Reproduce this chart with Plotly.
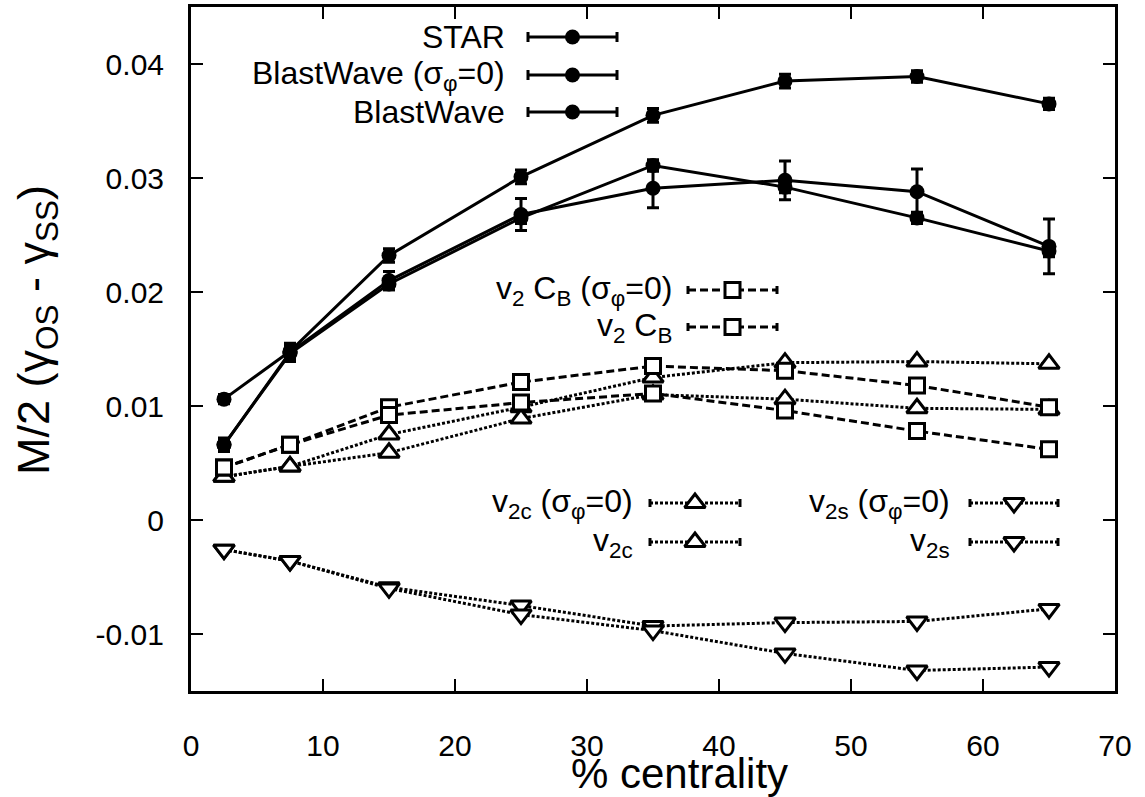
import plotly.graph_objects as go

# ---------------- data ----------------
centrality = [2.5, 7.5, 15, 25, 35, 45, 55, 65]

star = [0.0066, 0.0147, 0.0210, 0.0268, 0.0291, 0.0298, 0.0288, 0.0240]
star_err = [0.0006, 0.0008, 0.0008, 0.0014, 0.0017, 0.0017, 0.0020, 0.0024]

bw_sig0 = [0.0106, 0.0148, 0.0232, 0.0301, 0.0355, 0.0385, 0.0389, 0.0365]
bw_sig0_err = [0.0004, 0.0005, 0.0006, 0.0006, 0.0006, 0.0006, 0.0005, 0.0005]

bw = [0.0066, 0.0146, 0.0207, 0.0265, 0.0311, 0.0292, 0.0265, 0.0236]
bw_err = [0.0004, 0.0005, 0.0005, 0.0005, 0.0005, 0.0005, 0.0005, 0.0005]

v2cb_sig0 = [0.0046, 0.0066, 0.0099, 0.0121, 0.0135, 0.0131, 0.0118, 0.0099]
v2cb = [0.0046, 0.0066, 0.0092, 0.0103, 0.0111, 0.0096, 0.0078, 0.0062]

v2c_sig0 = [0.0038, 0.0047, 0.0075, 0.0099, 0.0125, 0.0138, 0.0139, 0.0137]
v2c = [0.0038, 0.0047, 0.0059, 0.0089, 0.0110, 0.0106, 0.0098, 0.0097]

v2s_sig0 = [-0.0026, -0.0036, -0.0059, -0.0075, -0.0093, -0.0090, -0.0089, -0.0078]
v2s = [-0.0026, -0.0036, -0.0060, -0.0083, -0.0097, -0.0117, -0.0132, -0.0129]

x_ticks = [0, 10, 20, 30, 40, 50, 60, 70]
y_ticks = [-0.01, 0, 0.01, 0.02, 0.03, 0.04]
y_ticklabels = ["-0.01", "0", "0.01", "0.02", "0.03", "0.04"]

# ---------------- styling ----------------
FONT = "Liberation Sans, Arial, Helvetica, sans-serif"
BLACK = "black"
DASH = "8px,4px"
DOT = "3px,2px"
LW = 3

fig = go.Figure()


def solid(y, err):
    fig.add_trace(go.Scatter(
        x=centrality, y=y, mode="lines+markers",
        line=dict(color=BLACK, width=LW),
        marker=dict(symbol="circle", size=15, color=BLACK),
        error_y=dict(type="data", array=err, color=BLACK, thickness=3, width=6),
        showlegend=False, hoverinfo="skip"))


def openline(y, symbol, dash, size):
    fig.add_trace(go.Scatter(
        x=centrality, y=y, mode="lines+markers",
        line=dict(color=BLACK, width=LW, dash=dash),
        marker=dict(symbol=symbol, size=size, color="white",
                    line=dict(color=BLACK, width=3)),
        showlegend=False, hoverinfo="skip"))


openline(v2s_sig0, "triangle-down", DOT, 18)
openline(v2s, "triangle-down", DOT, 18)
openline(v2c_sig0, "triangle-up", DOT, 18)
openline(v2c, "triangle-up", DOT, 18)
openline(v2cb_sig0, "square", DASH, 15)
openline(v2cb, "square", DASH, 15)
solid(star, star_err)
solid(bw_sig0, bw_sig0_err)
solid(bw, bw_err)

# ---------------- key (gnuplot-style), drawn on a pixel-unit overlay axis ----------------
# each key entry: (label, text right edge px, row y px, sample x0, sample x1, kind)
key_entries = [
    ("STAR", 507, 37, 528, 617, "err"),
    ("BlastWave (σ<sub>φ</sub>=0)", 507, 75, 528, 617, "err"),
    ("BlastWave", 507, 112, 528, 617, "err"),
    ("v<sub>2</sub> C<sub>B</sub> (σ<sub>φ</sub>=0)", 674, 290, 688, 777, "sq"),
    ("v<sub>2</sub> C<sub>B</sub>", 674, 327, 688, 777, "sq"),
    ("v<sub>2c</sub> (σ<sub>φ</sub>=0)", 635, 503, 650, 740, "tu"),
    ("v<sub>2c</sub>", 635, 542, 650, 740, "tu"),
    ("v<sub>2s</sub> (σ<sub>φ</sub>=0)", 952, 503, 970, 1058, "td"),
    ("v<sub>2s</sub>", 952, 542, 970, 1058, "td"),
]

PL, PR, PT, PB = 191, 1115, 7, 691


def px2paper(px, py):
    return (px - PL) / (PR - PL), (PB - py) / (PB - PT)


for label, tx, ty, x0, x1, kind in key_entries:
    xm = (x0 + x1) / 2
    if kind == "err":
        fig.add_trace(go.Scatter(
            x=[xm], y=[ty], mode="markers", xaxis="x2", yaxis="y2",
            marker=dict(symbol="circle", size=15, color=BLACK),
            error_x=dict(type="constant", value=(x1 - x0) / 2, color=BLACK,
                         thickness=3, width=5),
            showlegend=False, hoverinfo="skip"))
    else:
        dash = DASH if kind == "sq" else DOT
        sym = {"sq": "square", "tu": "triangle-up", "td": "triangle-down"}[kind]
        size = 15 if kind == "sq" else 18
        fig.add_trace(go.Scatter(
            x=[x0, x1], y=[ty, ty], mode="lines", xaxis="x2", yaxis="y2",
            line=dict(color=BLACK, width=LW, dash=dash),
            showlegend=False, hoverinfo="skip"))
        fig.add_trace(go.Scatter(
            x=[x0, x0, None, x1, x1], y=[ty - 4, ty + 4, None, ty - 4, ty + 4],
            mode="lines", xaxis="x2", yaxis="y2",
            line=dict(color=BLACK, width=3),
            showlegend=False, hoverinfo="skip"))
        fig.add_trace(go.Scatter(
            x=[xm], y=[ty], mode="markers", xaxis="x2", yaxis="y2",
            marker=dict(symbol=sym, size=size, color="white",
                        line=dict(color=BLACK, width=3)),
            showlegend=False, hoverinfo="skip"))
    fig.add_annotation(
        x=tx, y=ty, xref="x2", yref="y2", text=label, showarrow=False,
        xanchor="right", yanchor="middle",
        font=dict(family=FONT, size=32, color=BLACK))

# axis titles (paper coordinates so they may sit outside the plot area)
ax, ay = px2paper(679, 774)
fig.add_annotation(
    x=ax, y=ay, xref="paper", yref="paper", text="% centrality",
    showarrow=False, xanchor="center", yanchor="middle",
    font=dict(family=FONT, size=42, color=BLACK))
ax, ay = px2paper(36, 330)
fig.add_annotation(
    x=ax, y=ay, xref="paper", yref="paper",
    text="M/2 (γ<sub>OS</sub> - γ<sub>SS</sub>)", textangle=-90,
    showarrow=False, xanchor="center", yanchor="middle",
    font=dict(family=FONT, size=45, color=BLACK))

axis_common = dict(
    showgrid=False, zeroline=False, showline=True, linecolor=BLACK,
    linewidth=3, mirror="ticks", ticks="inside", ticklen=12, tickwidth=2,
    tickcolor=BLACK, automargin=False,
    tickfont=dict(family=FONT, size=30, color=BLACK))

fig.update_layout(
    width=1145, height=797,
    paper_bgcolor="white", plot_bgcolor="white",
    margin=dict(l=PL, r=1145 - PR, t=PT, b=797 - PB, pad=0),
    xaxis=dict(range=[0, 70], tickvals=x_ticks, ticklabelstandoff=26, **axis_common),
    yaxis=dict(range=[-0.015, 0.045], tickvals=y_ticks,
               ticktext=y_ticklabels, ticklabelstandoff=18, **axis_common),
    xaxis2=dict(range=[PL, PR], overlaying="x", visible=False, fixedrange=True,
                automargin=False),
    yaxis2=dict(range=[PB, PT], overlaying="y", visible=False, fixedrange=True,
                automargin=False),
    showlegend=False,
)

fig.write_html("out.html", config={"displayModeBar": False},
               post_script="document.body.style.margin='0px';")
